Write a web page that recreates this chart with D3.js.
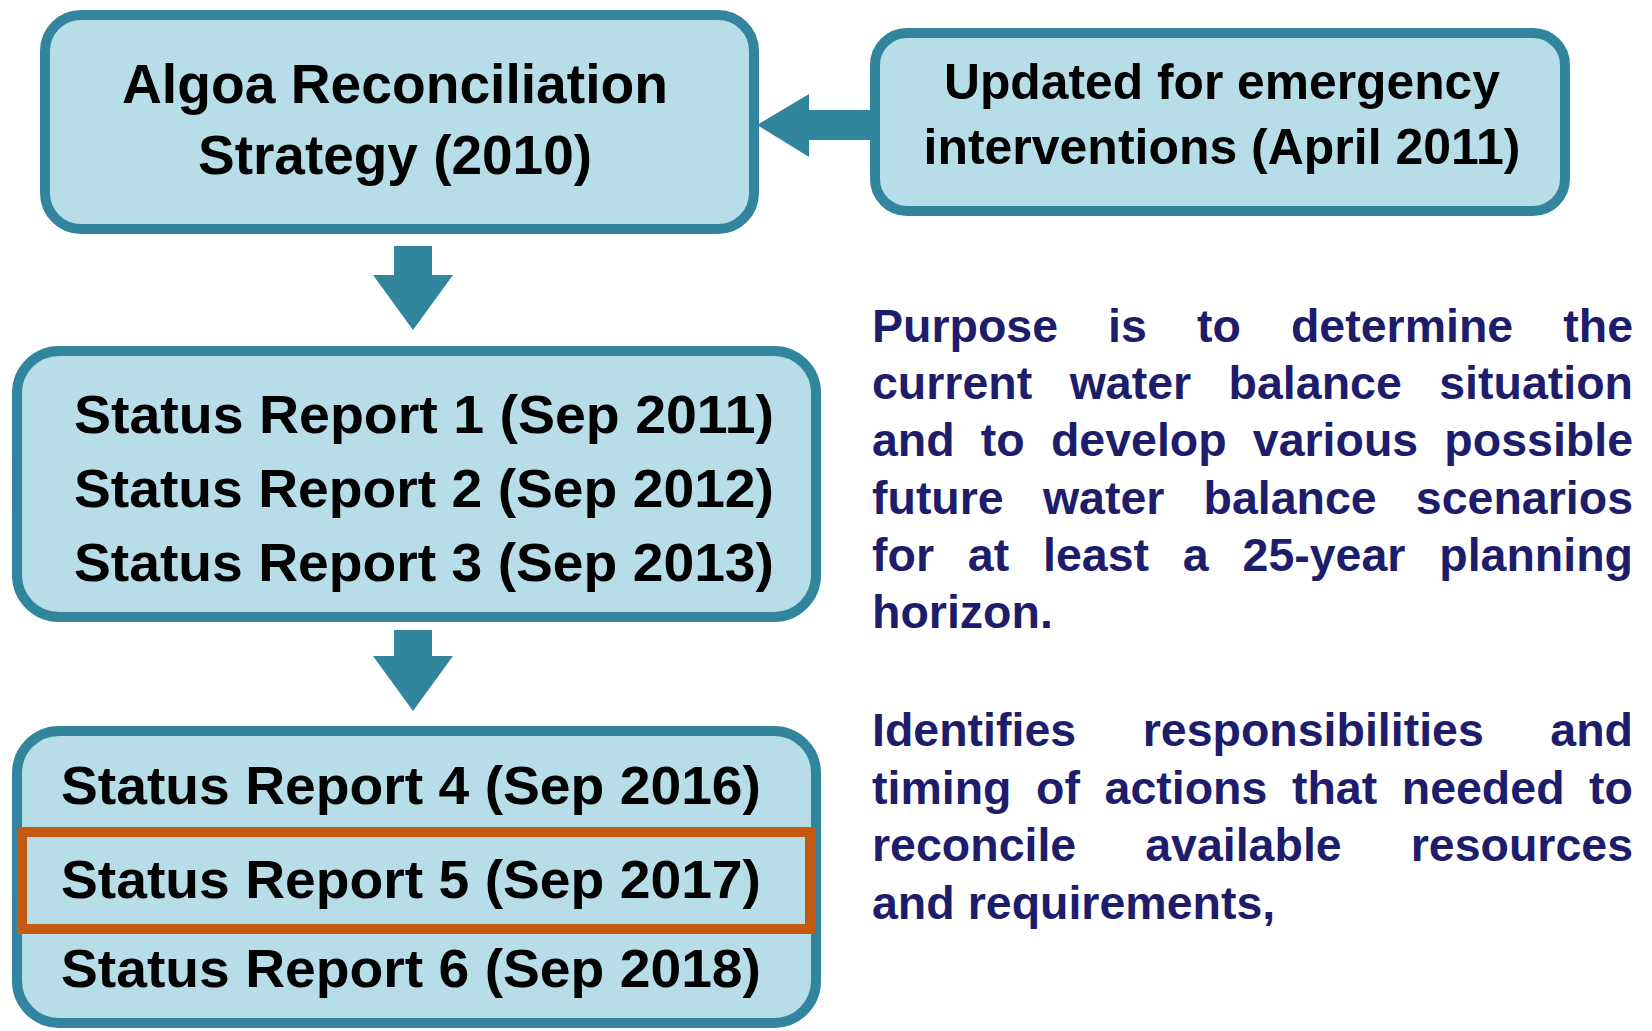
<!DOCTYPE html>
<html>
<head>
<meta charset="utf-8">
<script src="https://cdn.jsdelivr.net/npm/d3@7"></script>
<style>
  html, body { margin: 0; padding: 0; background: #fff; }
</style>
</head>
<body>
<div id="chart"></div>
<script>
// text content
var strategyLines = ['Algoa Reconciliation', 'Strategy (2010)'];
var updateLines = ['Updated for emergency', 'interventions (April 2011)'];
var reportsEarly = ['Status Report 1 (Sep 2011)', 'Status Report 2 (Sep 2012)', 'Status Report 3 (Sep 2013)'];
var reportsLate = ['Status Report 4 (Sep 2016)', 'Status Report 5 (Sep 2017)', 'Status Report 6 (Sep 2018)'];
var currentReport = 'Status Report 5 (Sep 2017)';
var purposeLines = [
  'Purpose is to determine the',
  'current water balance situation',
  'and to develop various possible',
  'future water balance scenarios',
  'for at least a 25-year planning',
  'horizon.'
];
var identifiesLines = [
  'Identifies responsibilities and',
  'timing of actions that needed to',
  'reconcile available resources',
  'and requirements,'
];

var width = 1652;
var height = 1031;
var teal = '#31859c';
var fill = '#b7dee8';
var orange = '#c55a11';
var navy = '#1d1d6b';
var font = '"Liberation Sans", Arial, sans-serif';

var svg = d3.select('#chart').append('svg')
  .attr('width', width)
  .attr('height', height);

// rounded box
function box(x, y, w, h, r) {
  svg.append('rect')
    .attr('x', x).attr('y', y)
    .attr('width', w).attr('height', h)
    .attr('rx', r).attr('ry', r)
    .attr('fill', fill)
    .attr('stroke', teal)
    .attr('stroke-width', 10);
}

// centered lines inside a box, stretched to the measured width
function boxText(lines, cx, baselines, widths, size) {
  svg.selectAll(null)
    .data(lines)
    .enter()
    .append('text')
    .attr('x', cx)
    .attr('y', function (d, i) { return baselines[i]; })
    .attr('text-anchor', 'middle')
    .attr('textLength', function (d, i) { return widths[i]; })
    .attr('lengthAdjust', 'spacingAndGlyphs')
    .style('font-family', font)
    .style('font-size', size + 'px')
    .style('font-weight', 'bold')
    .style('fill', '#000')
    .text(function (d) { return d; });
}

function downArrow(cx, top, tip) {
  var p = d3.path();
  p.moveTo(cx - 19, top);
  p.lineTo(cx + 19, top);
  p.lineTo(cx + 19, tip - 55);
  p.lineTo(cx + 40, tip - 55);
  p.lineTo(cx, tip);
  p.lineTo(cx - 40, tip - 55);
  p.lineTo(cx - 19, tip - 55);
  p.closePath();
  svg.append('path').attr('d', p.toString()).attr('fill', teal);
}

// justified paragraph
function paragraph(lines, left, right, first, step) {
  lines.forEach(function (line, i) {
    var words = line.split(' ');
    var t = svg.append('text')
      .attr('y', first + i * step)
      .style('font-family', font)
      .style('font-size', '46.5px')
      .style('font-weight', 'bold')
      .style('fill', navy);
    var spans = words.map(function (w) {
      return t.append('tspan').text(w);
    });
    var lens = spans.map(function (s) { return s.node().getComputedTextLength(); });
    var total = d3.sum(lens);
    var last = i === lines.length - 1;
    var gap = last || words.length < 2 ? 13 : (right - left - total) / (words.length - 1);
    var x = left;
    spans.forEach(function (s, j) {
      s.attr('x', x);
      x += lens[j] + gap;
    });
  });
}

// top box and update box
box(45, 15, 709, 214, 36);
box(875, 33, 690, 178, 32);

// arrow from update box
var la = d3.path();
la.moveTo(872, 110);
la.lineTo(809, 110);
la.lineTo(809, 94);
la.lineTo(757, 125);
la.lineTo(809, 157);
la.lineTo(809, 140);
la.lineTo(872, 140);
la.closePath();
svg.append('path').attr('d', la.toString()).attr('fill', teal);

boxText(strategyLines, 395, [103, 174], [546, 394], 55);
boxText(updateLines, 1222, [99, 164], [556, 597], 50);

// report boxes
downArrow(413, 246, 330);
box(17, 351, 799, 266, 42);
boxText(reportsEarly, 424, [433, 507, 581], [700, 700, 700], 54.5);

downArrow(413, 630, 711);
box(17, 731, 799, 292, 42);
svg.append('rect')
  .attr('x', 22).attr('y', 832)
  .attr('width', 788).attr('height', 97)
  .attr('fill', 'none')
  .attr('stroke', orange)
  .attr('stroke-width', 10);
boxText(reportsLate, 411, [804, 898, 987], [700, 700, 700], 54.5);

// right side paragraphs
paragraph(purposeLines, 872, 1633, 342, 57.2);
paragraph(identifiesLines, 872, 1633, 746, 57.5);
</script>
</body>
</html>
